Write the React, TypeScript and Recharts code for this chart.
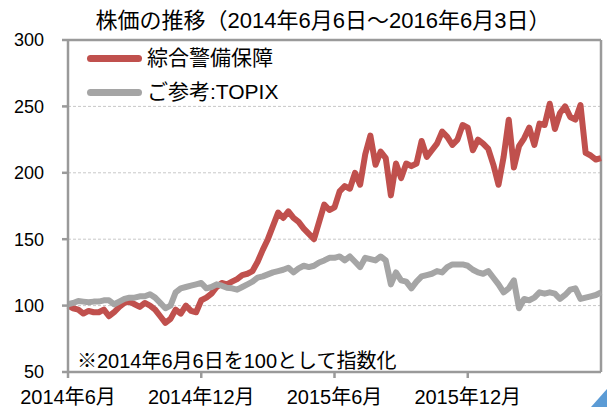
import React from 'react';
import {
  LineChart,
  Line,
  XAxis,
  YAxis,
  CartesianGrid,
  ReferenceLine,
  Legend,
} from 'recharts';

// weekly points, week 0 = 2014-06-06, week 104 = 2016-06-03 (index, 6/6/2014 = 100)
const weeks = Array.from({ length: 105 }, (_, i) => i);

const alsokValues = [
  100, 98, 97, 94, 96, 95, 95, 97, 92, 95,
  99, 102, 103, 101, 99, 102, 100, 97, 92, 87,
  90, 97, 94, 100, 96, 95, 104, 106, 109, 114,
  117, 116, 118, 120, 123, 124, 126, 133, 142, 150,
  160, 170, 166, 171, 166, 163, 158, 154, 150, 163,
  176, 172, 174, 186, 190, 188, 200, 191, 214, 228,
  206, 216, 211, 183, 207, 196, 207, 205, 207, 224,
  212, 217, 222, 231, 227, 221, 225, 236, 234, 217,
  225, 222, 218, 206, 191, 212, 240, 204, 220, 226,
  234, 221, 237, 236, 252, 233, 245, 250, 242, 240,
  251, 215, 213, 210, 211,
];

const topixValues = [
  101, 102, 103.5, 103, 102.5, 103, 103, 104, 104, 101,
  103, 105, 106, 106, 107, 107, 108.5, 106, 102, 98,
  100, 110, 113, 114, 115, 116, 117, 113, 114, 116,
  115, 113.5, 113, 112, 114, 116, 118, 121, 122, 123.5,
  125, 126, 127, 128.5, 125, 128, 130, 129, 130, 132.5,
  134, 136, 136, 137, 134, 137, 133, 129, 136, 135,
  134, 137, 134, 116, 125, 119, 118, 113, 118, 122,
  123, 124, 126, 125, 129, 131, 131, 131, 130, 127,
  125, 124, 126, 121, 116, 110, 113, 119, 98, 105,
  104, 106, 110, 109, 110, 109, 105, 108, 112, 113,
  105, 106, 107, 108, 110,
];

const seriesNames = ['綜合警備保障', 'ご参考:TOPIX'];
const seriesColors = ['#C0504D', '#A5A5A5'];

const xTickWeeks = [0, 26, 52, 78];
const xTickLabels = ['2014年6月', '2014年12月', '2015年6月', '2015年12月'];
const yTicks = [50, 100, 150, 200, 250, 300];

const title = '株価の推移（2014年6月6日～2016年6月3日）';
const note = '※2014年6月6日を100として指数化';

const data = weeks.map((w, i) => ({
  w,
  alsok: alsokValues[i],
  topix: topixValues[i],
}));

const FONT = '"Liberation Sans", "Noto Sans CJK JP", sans-serif';
const BORDER = '#9a9a9a';

const renderLegend = (props: any) => {
  const items = [...(props.payload || [])].sort(
    (a: any, b: any) => seriesNames.indexOf(a.value) - seriesNames.indexOf(b.value)
  );
  return (
    <div style={{ fontFamily: FONT }}>
      {items.map((entry: any) => (
        <div
          key={entry.value}
          style={{ display: 'flex', alignItems: 'center', height: 34 }}
        >
          <div
            style={{
              width: 55,
              height: 7,
              borderRadius: 4,
              background: entry.color,
              marginRight: 5,
            }}
          />
          <span
            style={{
              fontSize: 21,
              color: '#000',
              lineHeight: '24px',
              whiteSpace: 'nowrap',
            }}
          >
            {entry.value}
          </span>
        </div>
      ))}
    </div>
  );
};

export default function App() {
  return (
    <div
      style={{
        position: 'absolute',
        left: 0,
        top: 0,
        width: 607,
        height: 407,
        background: '#fff',
        fontFamily: FONT,
        overflow: 'hidden',
      }}
    >
      <div
        style={{
          position: 'absolute',
          left: 0,
          width: 646,
          top: 8,
          textAlign: 'center',
          fontSize: 22,
          lineHeight: '26px',
          color: '#000',
          whiteSpace: 'nowrap',
        }}
      >
        {title}
      </div>

      <LineChart
        width={607}
        height={407}
        data={data}
        margin={{ top: 40, right: 6, bottom: 0, left: 0 }}
      >
        <CartesianGrid
          vertical={false}
          stroke="#c8c8c8"
          strokeDasharray="3 2"
          horizontalValues={[100, 150, 200, 250]}
        />
        <XAxis
          dataKey="w"
          type="number"
          domain={[0, 104]}
          ticks={xTickWeeks}
          tickFormatter={(v: number) => xTickLabels[xTickWeeks.indexOf(v)]}
          height={35}
          tickSize={6}
          tickMargin={12}
          stroke={BORDER}
          strokeWidth={2.5}
          tick={{ fill: '#000', fontSize: 20, fontFamily: FONT }}
          interval={0}
        />
        <YAxis
          type="number"
          domain={[50, 300]}
          ticks={yTicks}
          width={68}
          tickSize={6}
          tickMargin={18}
          stroke={BORDER}
          strokeWidth={2.5}
          tick={{ fill: '#000', fontSize: 18, fontFamily: FONT }}
          interval={0}
        />
        <ReferenceLine y={300} stroke={BORDER} strokeWidth={2.5} />
        <ReferenceLine x={104} stroke={BORDER} strokeWidth={2.5} />
        <Legend
          content={renderLegend}
          verticalAlign="middle"
          align="center"
          layout="vertical"
          wrapperStyle={{ position: 'absolute', top: 41, left: 87, width: 'auto', height: 'auto' }}
        />
        <Line
          type="linear"
          dataKey="alsok"
          name={seriesNames[0]}
          stroke={seriesColors[0]}
          strokeWidth={6}
          strokeLinejoin="round"
          dot={false}
          isAnimationActive={false}
        />
        <Line
          type="linear"
          dataKey="topix"
          name={seriesNames[1]}
          stroke={seriesColors[1]}
          strokeWidth={6}
          strokeLinejoin="round"
          dot={false}
          isAnimationActive={false}
        />
      </LineChart>

      <div
        style={{
          position: 'absolute',
          left: 77,
          top: 348,
          fontSize: 20,
          lineHeight: '26px',
          color: '#000',
          whiteSpace: 'nowrap',
        }}
      >
        {note}
      </div>

      <div
        style={{
          position: 'absolute',
          right: 0,
          bottom: 0,
          width: 0,
          height: 0,
          borderStyle: 'solid',
          borderWidth: '0 0 18px 16px',
          borderColor: 'transparent transparent #5b9bd5 transparent',
        }}
      />
    </div>
  );
}
